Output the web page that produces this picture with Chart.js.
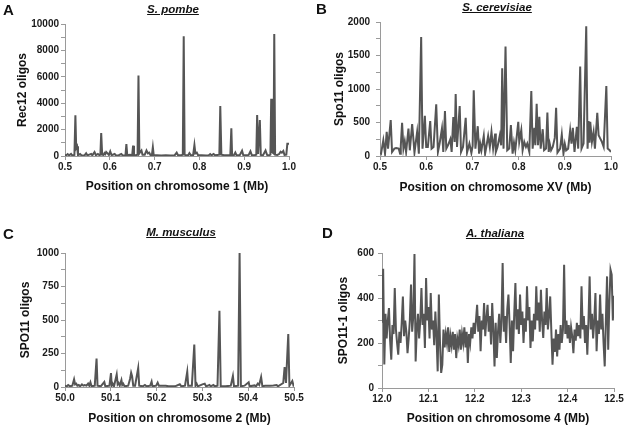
<!DOCTYPE html>
<html>
<head>
<meta charset="utf-8">
<script src="https://cdn.jsdelivr.net/npm/chart.js@4.4.1/dist/chart.umd.min.js"></script>
<style>
  body { margin: 0; background: #fff; font-family: "Liberation Sans", Arial, sans-serif; }
  #fig { position: relative; width: 625px; height: 427px; overflow: hidden; }
  canvas { position: absolute; }
  .letter { position: absolute; font-weight: bold; font-size: 15px; line-height: 15px; color: #111; }
  .species { position: absolute; width: 200px; text-align: center; font-weight: bold; font-style: italic;
             text-decoration: underline; font-size: 11.5px; line-height: 12px; color: #111; }
</style>
</head>
<body>
<div id="fig">
  <canvas id="cA" width="310" height="210" style="left:0;top:0"></canvas>
  <canvas id="cB" width="315" height="210" style="left:310px;top:0"></canvas>
  <canvas id="cC" width="310" height="217" style="left:0;top:210px"></canvas>
  <canvas id="cD" width="315" height="217" style="left:310px;top:210px"></canvas>

  <div class="letter" style="left:3px;top:2px">A</div>
  <div class="letter" style="left:316px;top:1px">B</div>
  <div class="letter" style="left:3px;top:226px">C</div>
  <div class="letter" style="left:322px;top:225px">D</div>

  <div class="species" style="left:73px;top:3px">S. pombe</div>
  <div class="species" style="left:397px;top:1px">S. cerevisiae</div>
  <div class="species" style="left:81px;top:226px">M. musculus</div>
  <div class="species" style="left:395px;top:227px">A. thaliana</div>
</div>

<script>
// Oligo counts along a 0.5 Mb window, one panel per organism.
// Positions in Mb, counts.

// A: S. pombe, chromosome 1
var pombePos = [
  0.500,0.503,0.506,0.509,0.5135,0.516,0.521,0.5232,0.525,0.527,
  0.529,0.5337,0.537,0.544,0.5472,0.550,0.5584,0.561,0.5659,0.569,
  0.5734,0.577,0.579,0.5808,0.583,0.586,0.5883,0.590,0.592,0.595,
  0.598,0.601,0.604,0.6108,0.614,0.620,0.6257,0.629,0.635,0.637,
  0.639,0.645,0.650,0.652,0.654,0.658,0.662,0.664,0.666,0.668,
  0.6707,0.673,0.678,0.6819,0.685,0.6879,0.691,0.694,0.6961,0.698,
  0.705,0.715,0.725,0.735,0.745,0.7493,0.752,0.760,0.763,0.765,
  0.767,0.770,0.775,0.7777,0.781,0.786,0.7889,0.791,0.7942,0.797,
  0.805,0.815,0.821,0.8241,0.827,0.8316,0.835,0.8445,0.8466,0.849,
  0.855,0.862,0.869,0.8713,0.873,0.877,0.8802,0.883,0.890,0.8952,
  0.898,0.905,0.910,0.9139,0.917,0.923,0.927,0.9289,0.931,0.933,
  0.9349,0.937,0.942,0.9476,0.951,0.956,0.9585,0.9603,0.962,0.9655,
  0.9671,0.969,0.974,0.978,0.9813,0.984,0.9873,0.990,0.994,0.9963,
  1.000
];
var pombeVal = [
  80,60,150,50,160,50,80,3080,600,730,
  60,150,40,60,200,50,160,50,300,60,
  160,60,100,1740,100,80,220,150,300,200,
  80,350,60,150,40,60,150,40,60,900,
  60,100,60,780,80,60,100,6090,200,300,
  420,100,100,420,200,250,60,80,660,60,
  50,40,50,40,60,260,80,60,100,9070,
  100,50,60,220,50,60,830,200,260,60,
  50,40,60,150,50,150,50,100,3790,100,
  60,50,60,2100,80,60,260,50,60,400,
  60,60,80,350,60,60,100,3110,150,150,
  2730,80,60,420,80,60,100,4340,300,200,
  9240,100,80,150,320,250,380,80,100,930,
  930
];

// B: S. cerevisiae, chromosome XV
var cerevisiaePos = [
  0.500,0.5022,0.5072,0.5109,0.5145,0.5174,0.5232,0.5261,0.5312,0.5348,
  0.5406,0.5435,0.545,0.5478,0.5507,0.5536,0.5565,0.5616,0.5645,0.5696,
  0.5725,0.5746,0.577,0.5804,0.5841,0.5891,0.592,0.5971,0.600,0.6036,
  0.6087,0.6116,0.6159,0.6217,0.6254,0.629,0.6341,0.637,0.6406,0.6435,
  0.6471,0.6522,0.6551,0.6587,0.6616,0.6638,0.6667,0.6725,0.6754,0.6797,
  0.6855,0.6884,0.6935,0.6978,0.7005,0.7029,0.7065,0.7116,0.7145,0.717,
  0.7196,0.7246,0.7275,0.7305,0.7341,0.7377,0.7413,0.7449,0.7493,0.7507,
  0.7543,0.7594,0.7623,0.7645,0.7674,0.7717,0.7754,0.7797,0.7833,0.787,
  0.790,0.7928,0.7993,0.8014,0.8058,0.8087,0.8123,0.8159,0.8188,0.8232,
  0.8275,0.8304,0.8341,0.8362,0.8391,0.842,0.8449,0.8478,0.8522,0.8551,
  0.8594,0.8623,0.8652,0.8675,0.8703,0.8739,0.8783,0.8812,0.8841,0.8899,
  0.8935,0.8971,0.900,0.9029,0.9072,0.9116,0.9145,0.9174,0.921,0.9235,
  0.9261,0.929,0.9333,0.9362,0.9406,0.9464,0.9493,0.9515,0.9536,0.9551,
  0.9587,0.9623,0.9652,0.9703,0.9732,0.9768,0.9797,0.9841,0.9899,0.9928,
  0.9971,1.000
];
var cerevisiaeVal = [
  50,35,235,35,360,110,535,60,110,120,
  110,35,150,495,110,220,60,410,85,475,
  235,50,180,360,35,1775,110,600,135,135,
  520,110,135,770,60,185,410,60,670,110,
  160,250,60,580,210,925,135,745,60,135,
  570,50,185,45,150,980,110,445,35,180,
  85,300,35,150,300,135,360,110,335,60,
  135,310,160,1310,110,1635,85,110,460,35,
  200,85,510,210,385,85,210,135,185,60,
  970,110,420,160,780,160,585,110,400,85,
  110,650,60,180,85,135,270,720,50,110,
  320,35,180,85,110,385,185,420,60,250,
  435,110,1335,110,185,1935,110,520,200,510,
  210,360,110,645,310,260,220,135,1045,110,
  85,60
];

// C: M. musculus, chromosome 2
var musculusPos = [
  50.000,50.004,50.007,50.011,50.016,50.0198,50.022,50.0245,50.027,50.030,
  50.033,50.037,50.040,50.043,50.047,50.0505,50.053,50.0555,50.058,50.065,
  50.0689,50.071,50.078,50.0858,50.088,50.097,50.1004,50.102,50.104,50.107,
  50.1129,50.115,50.117,50.1195,50.1232,50.125,50.127,50.130,50.138,50.142,
  50.1444,50.1465,50.149,50.153,50.1598,50.162,50.170,50.1745,50.178,50.186,
  50.1891,50.191,50.199,50.2023,50.205,50.210,50.220,50.226,50.240,50.2507,
  50.254,50.262,50.2669,50.269,50.277,50.2823,50.285,50.2875,50.290,50.300,
  50.305,50.308,50.3155,50.318,50.324,50.327,50.333,50.3372,50.340,50.350,
  50.362,50.3666,50.369,50.378,50.3812,50.384,50.392,50.401,50.403,50.414,
  50.417,50.421,50.424,50.4282,50.431,50.437,50.448,50.455,50.462,50.465,
  50.4765,50.4795,50.4825,50.4875,50.490,50.4963,50.499,50.500
];
var musculusVal = [
  10,5,15,5,10,57,20,25,10,15,
  5,20,10,15,10,25,10,35,5,10,
  213,10,5,37,5,10,104,10,25,5,
  94,20,30,10,52,15,25,5,10,60,
  106,80,10,10,141,10,5,15,5,10,
  40,5,10,32,10,10,10,5,5,20,
  5,10,114,10,10,317,10,25,5,20,
  25,5,15,5,15,5,10,569,5,5,
  10,82,5,10,1000,5,10,35,5,12,
  5,25,15,74,5,10,10,12,15,5,
  30,149,30,396,10,45,10,10
];

// D: A. thaliana, chromosome 4 -- evenly spaced bins from 12.0 Mb
var thalianaStart = 12.0;
var thalianaBin = 0.0025;
var thalianaVal = [
  290,530,104,330,220,300,355,210,126,280,
  240,444,260,200,148,250,200,290,407,230,
  300,250,155,220,300,460,250,320,595,118,
  260,330,220,300,444,280,330,178,489,300,
  360,220,422,260,300,190,340,230,74,415,
  200,67,104,260,180,240,200,270,160,230,
  190,250,170,240,133,220,190,260,170,240,
  200,270,180,250,111,240,200,270,220,290,
  240,300,370,250,320,163,300,260,378,230,
  310,370,250,320,193,378,260,96,290,133,
  250,330,200,300,556,250,320,200,350,415,
  280,111,300,163,330,467,260,350,240,415,
  280,340,200,310,250,452,300,360,178,300,
  207,330,260,452,300,380,250,437,300,222,
  340,280,444,260,320,407,250,104,220,160,
  260,140,240,170,280,200,260,548,240,300,
  220,280,200,270,230,155,260,210,290,230,
  280,220,452,260,320,200,280,148,300,496,
  260,330,220,300,422,163,300,240,415,260,
  330,200,96,300,496,170,380,526,504,300,
  410
];
var thalianaPos = thalianaVal.map(function (v, i) { return thalianaStart + i * thalianaBin; });

var LINE = "rgb(85, 85, 85)";
var AXIS = "#9a9a9a";
var FONT = "'Liberation Sans', Arial, sans-serif";

// panel builds one line chart; plot box is pinned by padding + fixed axis sizes
function panel(id, pos, val, cfg) {
  var pts = pos.map(function (p, i) { return { x: p, y: val[i] }; });
  return new Chart(document.getElementById(id), {
    type: "line",
    data: {
      datasets: [{
        data: pts,
        borderColor: LINE,
        borderWidth: 2,
        pointRadius: 0,
        tension: 0,
        fill: false,
      }],
    },
    options: {
      responsive: false,
      animation: false,
      devicePixelRatio: 1,
      layout: { padding: cfg.pad },
      plugins: { legend: { display: false }, tooltip: { enabled: false } },
      scales: {
        x: {
          type: "linear",
          min: cfg.xMin,
          max: cfg.xMax,
          afterFit: function (s) { s.height = cfg.xH; },
          border: { color: AXIS },
          grid: { drawOnChartArea: false, tickLength: 4, color: AXIS },
          ticks: {
            stepSize: 0.1,
            autoSkip: false,
            maxRotation: 0,
            padding: 1,
            color: "#1a1a1a",
            font: { family: FONT, size: 10, weight: "bold" },
            callback: function (v) { return v.toFixed(1); },
          },
          title: {
            display: true,
            text: cfg.xTitle,
            color: "#111",
            padding: 0,
            font: { family: FONT, size: 12, weight: "bold" },
          },
        },
        y: {
          min: 0,
          max: cfg.yMax,
          afterFit: function (s) { s.width = cfg.yW; },
          border: { color: AXIS },
          grid: { drawOnChartArea: false, tickLength: 4, color: AXIS },
          ticks: {
            stepSize: cfg.yStep,
            autoSkip: false,
            padding: cfg.yPad,
            color: "#1a1a1a",
            font: { family: FONT, size: 10, weight: "bold" },
            callback: function (v) { return v % cfg.yMajor === 0 ? String(v) : ""; },
          },
          title: {
            display: true,
            text: cfg.yTitle,
            color: "#111",
            padding: 0,
            font: { family: FONT, size: 12, weight: "bold" },
          },
        },
      },
    },
  });
}

panel("cA", pombePos, pombeVal, {
  pad: { left: 15, right: 21, top: 24, bottom: 16 }, yW: 50, xH: 38, yPad: 2,
  xMin: 0.5, xMax: 1.0, yMax: 10000, yStep: 1000, yMajor: 2000,
  xTitle: "Position on chromosome 1 (Mb)", yTitle: "Rec12 oligos",
});
panel("cB", cerevisiaePos, cerevisiaeVal, {
  pad: { left: 22, right: 14, top: 22, bottom: 15 }, yW: 48, xH: 39, yPad: 6,
  xMin: 0.5, xMax: 1.0, yMax: 2000, yStep: 250, yMajor: 500,
  xTitle: "Position on chromosome XV (Mb)", yTitle: "Spo11 oligos",
});
panel("cC", musculusPos, musculusVal, {
  pad: { left: 18, right: 16, top: 43, bottom: 1 }, yW: 47, xH: 39, yPad: 2,
  xMin: 50.0, xMax: 50.5, yMax: 1000, yStep: 125, yMajor: 250,
  xTitle: "Position on chromosome 2 (Mb)", yTitle: "SPO11 oligos",
});
panel("cD", thalianaPos, thalianaVal, {
  pad: { left: 26, right: 11, top: 43, bottom: 1 }, yW: 46, xH: 38, yPad: 4,
  xMin: 12.0, xMax: 12.5, yMax: 600, yStep: 100, yMajor: 200,
  xTitle: "Position on chromosome 4 (Mb)", yTitle: "SPO11-1 oligos",
});
</script>
</body>
</html>
